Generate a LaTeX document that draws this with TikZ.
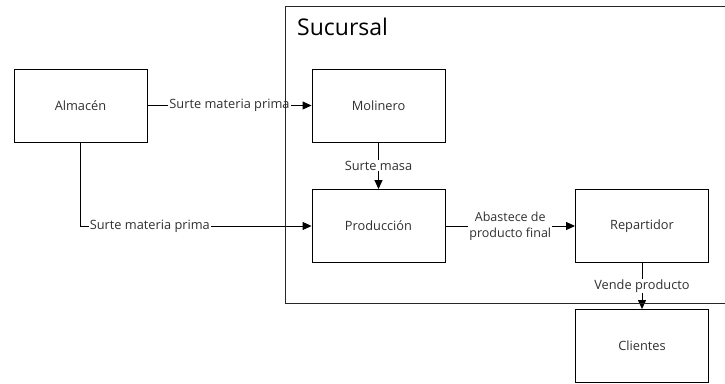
\documentclass[tikz,border=0pt]{standalone}
\usepackage{fontspec}
\setmainfont{Open Sans}
\usetikzlibrary{arrows.meta}
\definecolor{txt}{HTML}{303030}
\tikzset{
  box/.style={draw=black, line width=0.9pt, minimum width=133pt, minimum height=73pt, inner sep=0pt, font=\fontsize{12.8}{15}\selectfont, text=txt},
  lbl/.style={fill=white, inner sep=1pt, font=\fontsize{12.8}{15}\selectfont, text=txt, align=center},
  arr/.style={draw=black, line width=0.9pt, -{Triangle[length=9pt,width=8pt]}},
  frame/.style={draw=black!85, line width=0.9pt}
}
\begin{document}
\begin{tikzpicture}[x=1pt,y=-1pt]
\useasboundingbox (0,0) rectangle (725,383);
\node[box] (alm) at (80.5,105.5) {Almacén};
\node[box] (mol) at (378.5,105.5) {Molinero};
\node[box] (prod) at (378.5,226) {Producción};
\node[box] (rep) at (642,226) {Repartidor};
\node[box] (cli) at (642,346) {Clientes};
\draw[arr] (alm) -- node[lbl] {Surte materia prima} (mol);
\draw[arr] (mol) -- node[lbl, pos=0.5] {Surte masa} (prod);
\draw[arr] (alm.south) |- node[lbl, pos=0.65] {Surte materia prima} (prod.west);
\draw[arr] (prod) -- node[lbl, font=\fontsize{12.5}{15.5}\selectfont] {Abastece de\\producto final} (rep);
\draw[arr] (rep) -- node[lbl, pos=0.5] {Vende producto} (cli);
\draw[frame] (725,6) -- (285,6) -- (285,303) -- (725,303);
\node[anchor=base west, inner sep=0pt, font=\fontsize{23}{27}\selectfont, text=black] (suc) at (297,35) {Sucursal};
\end{tikzpicture}
\end{document}
